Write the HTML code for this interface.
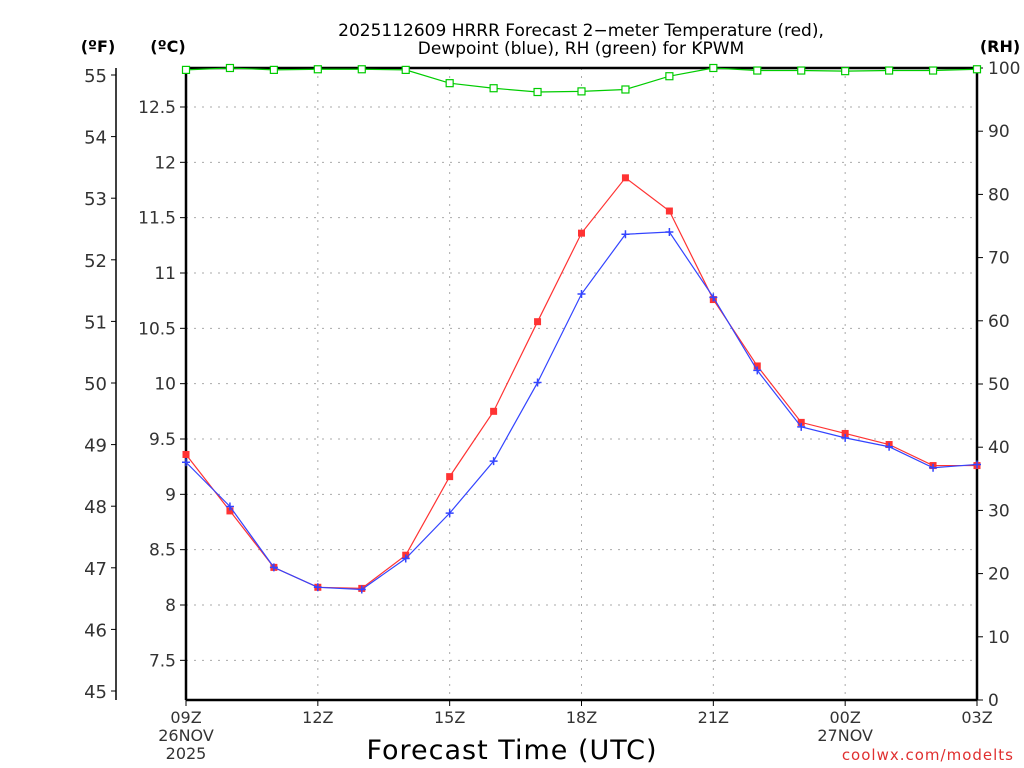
<!DOCTYPE html>
<html><head><meta charset="utf-8"><style>
body{margin:0;background:#fff;}
svg{display:block;font-family:"DejaVu Sans","Liberation Sans",sans-serif;}
</style></head><body>
<svg id="chart" width="1024" height="768" viewBox="0 0 1024 768">
<g id="grid"></g>
<g id="axes"></g>
<g id="series"></g>
<text x="581" y="36" text-anchor="middle" font-size="17" fill="#000">2025112609 HRRR Forecast 2−meter Temperature (red),</text>
<text x="581" y="54" text-anchor="middle" font-size="17" fill="#000">Dewpoint (blue), RH (green) for KPWM</text>
<text x="98" y="52" text-anchor="middle" font-size="16" font-weight="bold">(ºF)</text>
<text x="168" y="52" text-anchor="middle" font-size="16" font-weight="bold">(ºC)</text>
<text x="1000" y="52" text-anchor="middle" font-size="16" font-weight="bold">(RH)</text>
<text x="512" y="759" text-anchor="middle" font-size="27" letter-spacing="1">Forecast Time (UTC)</text>
<text x="1014" y="760" text-anchor="end" font-size="15" fill="#e03030" letter-spacing="1">coolwx.com/modelts</text>
</svg>
<script>
const hours=["09Z","10Z","11Z","12Z","13Z","14Z","15Z","16Z","17Z","18Z","19Z","20Z","21Z","22Z","23Z","00Z","01Z","02Z","03Z"];
const tempC=[9.36,8.85,8.34,8.16,8.15,8.45,9.16,9.75,10.56,11.36,11.86,11.56,10.76,10.16,9.65,9.55,9.45,9.26,9.26];
const dewC=[9.29,8.89,8.34,8.16,8.14,8.42,8.83,9.30,10.01,10.81,11.35,11.37,10.78,10.12,9.61,9.51,9.43,9.24,9.27];
const rh=[99.7,100,99.7,99.8,99.8,99.7,97.6,96.8,96.2,96.3,96.6,98.7,100,99.6,99.6,99.5,99.6,99.6,99.8];
const cTicks=[7.5,8,8.5,9,9.5,10,10.5,11,11.5,12,12.5];
const fTicks=[45,46,47,48,49,50,51,52,53,54,55];
const rhTicks=[0,10,20,30,40,50,60,70,80,90,100];
const xLabels=["09Z","12Z","15Z","18Z","21Z","00Z","03Z"];

const NS="http://www.w3.org/2000/svg";
const L=186,R=977,T=68,B=700;
const x=i=>L+i*(R-L)/(hours.length-1);
const yC=c=>605-(c-8)*110.67;
const yF=f=>75+(55-f)*61.6;
const yRH=v=>B-v*(B-T)/100;
function mk(tag,attrs,parent){const e=document.createElementNS(NS,tag);for(const k in attrs)e.setAttribute(k,attrs[k]);parent.appendChild(e);return e;}
const grid=document.getElementById('grid'),axes=document.getElementById('axes'),series=document.getElementById('series');

cTicks.forEach(c=>{
 const g=mk('line',{x1:L,x2:R,y1:yC(c),y2:yC(c),stroke:'#aaa','stroke-dasharray':'2,6'},grid);
 
 });
hours.forEach((h,i)=>{if(xLabels.indexOf(h)<0||i===0||i===hours.length-1)return;
 const g=mk('line',{x1:x(i),x2:x(i),y1:T,y2:B,stroke:'#aaa','stroke-dasharray':'2,6'},grid);
 
 });

mk('line',{x1:L,x2:L,y1:T,y2:B,stroke:'#000','stroke-width':2.5},axes);
mk('line',{x1:R,x2:R,y1:T,y2:B,stroke:'#000','stroke-width':2.5},axes);
mk('line',{x1:L,x2:R,y1:T,y2:T,stroke:'#000','stroke-width':2.5},axes);
mk('line',{x1:L,x2:R,y1:B,y2:B,stroke:'#000','stroke-width':2.5},axes);
mk('line',{x1:116,x2:116,y1:T,y2:B,stroke:'#000','stroke-width':1.5},axes);

fTicks.forEach(f=>{mk('line',{x1:111,x2:116,y1:yF(f),y2:yF(f),stroke:'#000'},axes);
 const t=mk('text',{x:107,y:yF(f)+7,'text-anchor':'end','font-size':18,fill:'#333'},axes);t.textContent=f;
 
 });
cTicks.forEach(c=>{mk('line',{x1:180,x2:186,y1:yC(c),y2:yC(c),stroke:'#000'},axes);
 const t=mk('text',{x:176,y:yC(c)+6,'text-anchor':'end','font-size':17,fill:'#333'},axes);t.textContent=c;
 
 });
rhTicks.forEach(v=>{mk('line',{x1:R,x2:R+6,y1:yRH(v),y2:yRH(v),stroke:'#000'},axes);
 const t=mk('text',{x:988,y:yRH(v)+6,'font-size':17,fill:'#333'},axes);t.textContent=v;
 
 });
hours.forEach((h,i)=>{if(xLabels.indexOf(h)<0)return;
 mk('line',{x1:x(i),x2:x(i),y1:B,y2:B+6,stroke:'#000'},axes);
 const t=mk('text',{x:x(i),y:723,'text-anchor':'middle','font-size':16,fill:'#333'},axes);t.textContent=h;
 
 });
[["26NOV",x(0),741],["2025",x(0),759],["27NOV",x(15),741]].forEach(d=>{
 const t=mk('text',{x:d[1],y:d[2],'text-anchor':'middle','font-size':16,fill:'#333'},axes);t.textContent=d[0];
 
 });

function line(vals,yf,color,name){
 const p=mk('polyline',{points:vals.map((v,i)=>x(i)+','+yf(v)).join(' '),fill:'none',stroke:color,'stroke-width':1.2},series);
 
 
}
line(rh,yRH,'#00cc00','rh-line');
rh.forEach((v,i)=>{const m=mk('rect',{x:x(i)-3.5,y:yRH(v)-3.5,width:7,height:7,fill:'#fff',stroke:'#00cc00','stroke-width':1.2},series);
 
 });
line(tempC,yC,'#ff3333','temperature-line');
tempC.forEach((v,i)=>{const m=mk('rect',{x:x(i)-3.5,y:yC(v)-3.5,width:7,height:7,fill:'#ff3333'},series);
 
 });
line(dewC,yC,'#3344ff','dewpoint-line');
dewC.forEach((v,i)=>{const m=mk('path',{d:`M${x(i)-4},${yC(v)}h8M${x(i)},${yC(v)-4}v8`,stroke:'#3344ff','stroke-width':1.5},series);
 
 });
</script>
</body></html>
